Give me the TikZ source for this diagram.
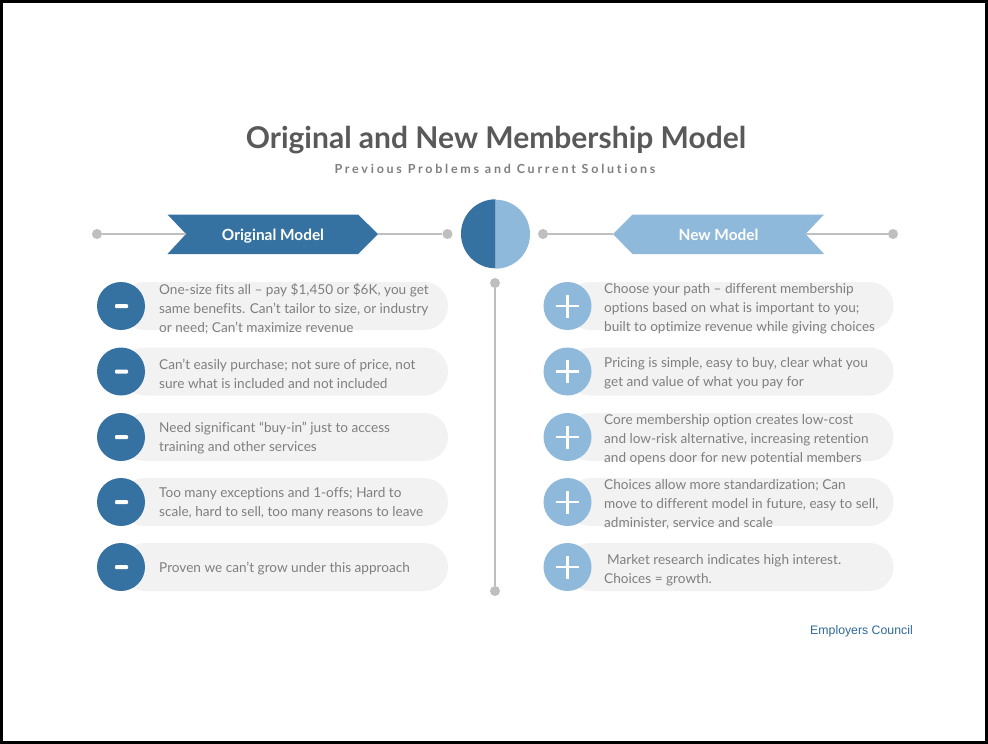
\documentclass[tikz,border=0pt]{standalone}
\usepackage{fontspec}
\setmainfont[Ligatures=NoCommon]{Lato}
\newfontfamily\subfont[LetterSpace=22,Ligatures=NoCommon]{Lato}
\newfontfamily\footfont{Liberation Sans}
\usetikzlibrary{shapes.misc}
\definecolor{dblue}{HTML}{3571A1}
\definecolor{lblue}{HTML}{8FB9DB}
\definecolor{pillgray}{HTML}{F2F2F2}
\definecolor{textgray}{HTML}{7F7F7F}
\definecolor{titlegray}{HTML}{595959}
\definecolor{linegray}{HTML}{BFBFBF}
\definecolor{footblue}{HTML}{2E6A9A}
\tikzset{
  gline/.style={draw=linegray, line width=2pt},
  dotnode/.style={circle, fill=linegray, minimum size=10pt, inner sep=0pt},
  pill/.style={rounded rectangle, fill=pillgray, minimum height=48pt, minimum width=327pt, inner sep=0pt},
  minusicon/.style={circle, fill=dblue, minimum size=48pt, inner sep=0pt,
    path picture={\fill[white, rounded corners=1pt] ([xshift=-6pt,yshift=-2pt]path picture bounding box.center) rectangle ++(13pt,4pt);}},
  plusicon/.style={circle, fill=lblue, minimum size=48pt, inner sep=0pt,
    path picture={\draw[white, line width=2.6pt] ([xshift=-11.5pt]path picture bounding box.center) -- ([xshift=11.5pt]path picture bounding box.center)
      ([yshift=-11.5pt]path picture bounding box.center) -- ([yshift=11.5pt]path picture bounding box.center);}},
  txt/.style={anchor=west, align=left, inner sep=0pt, text=textgray, font=\fontsize{13.6}{19}\selectfont},
  bantext/.style={anchor=base, text=white, font=\fontsize{15.4}{17}\selectfont\bfseries, inner sep=0pt},
}
\begin{document}
\begin{tikzpicture}[x=1pt, y=-1pt]
\useasboundingbox (0,0) rectangle (988,744);
\fill[white] (0,0) rectangle (988,744);
\draw[black, line width=3pt] (1.5,1.5) rectangle (986.5,742.5);

% title
\node[text=titlegray, font=\fontsize{30}{34}\selectfont\bfseries, inner sep=0pt] (title) at (496,140) {Original and New Membership Model};
\node[text=textgray, font=\fontsize{12.5}{14}\selectfont\subfont\bfseries, inner sep=0pt] (subtitle) at (495,168.5) {Previous Problems and Current Solutions};

% left banner
\fill[dblue] (167.5,214.5) -- (358,214.5) -- (378,234) -- (358,254) -- (167.5,254) -- (186,234) -- cycle;
\coordinate (b1n) at (186,234);
\coordinate (b1t) at (378,234);
\node[bantext] (b1) at (273,240.5) {Original Model};
\node[dotnode] (d1) at (97,234) {};
\node[dotnode] (d2) at (447.5,234) {};
\draw[gline] (d1) -- (b1n);
\draw[gline] (b1t) -- (d2);

% right banner
\fill[lblue] (613,234) -- (632.5,214.5) -- (824,214.5) -- (805.5,234) -- (824,254) -- (632.5,254) -- cycle;
\coordinate (b2t) at (613,234);
\coordinate (b2n) at (805.5,234);
\node[bantext] (b2) at (718.5,240.5) {New Model};
\node[dotnode] (d3) at (543,234) {};
\node[dotnode] (d4) at (893,234) {};
\draw[gline] (d3) -- (b2t);
\draw[gline] (b2n) -- (d4);

% center circle
\node[circle, minimum size=69pt, inner sep=0pt] (cc) at (495.5,234) {};
\fill[dblue] (cc.north) arc[start angle=90, end angle=270, radius=34.5pt] -- cycle;
\fill[lblue] (cc.south) arc[start angle=-90, end angle=90, radius=34.5pt] -- cycle;

% vertical divider
\node[dotnode] (v1) at (495,283) {};
\node[dotnode] (v2) at (495,591) {};
\draw[gline] (v1) -- (v2);

% left rows
\foreach \i/\y in {1/306, 2/371.5, 3/437, 4/502, 5/567}{
  \node[pill] (lp\i) at (284.5,\y) {};
  \node[minusicon] (lm\i) at (121,\y) {};
}
\node[txt] (lt1) at (159,308.5) {One-size fits all – pay \$1,450 or \$6K, you get\\same benefits. Can’t tailor to size, or industry\\or need; Can’t maximize revenue};
\node[txt] (lt2) at (159,373.5) {Can’t easily purchase; not sure of price, not\\sure what is included and not included};
\node[txt] (lt3) at (159,438) {Need significant “buy-in” just to access\\training and other services};
\node[txt] (lt4) at (159,503.5) {Too many exceptions and 1-offs; Hard to\\scale, hard to sell, too many reasons to leave};
\node[txt] (lt5) at (159,568.5) {Proven we can’t grow under this approach};

% right rows
\foreach \i/\y in {1/306, 2/371.5, 3/437, 4/502, 5/567}{
  \node[pill] (rp\i) at (730,\y) {};
  \node[plusicon] (rm\i) at (567.5,\y) {};
}
\node[txt] (rt1) at (604,308.5) {Choose your path – different membership\\options based on what is important to you;\\built to optimize revenue while giving choices};
\node[txt] (rt2) at (604,373.5) {Pricing is simple, easy to buy, clear what you\\get and value of what you pay for};
\node[txt] (rt3) at (604,439.5) {Core membership option creates low-cost\\and low-risk alternative, increasing retention\\and opens door for new potential members};
\node[txt] (rt4) at (604,504.5) {Choices allow more standardization; Can\\move to different model in future, easy to sell,\\administer, service and scale};
\node[txt] (rt5) at (604,570) {\hspace{3pt}Market research indicates high interest.\\Choices = growth.};

% footer
\node[text=footblue, font=\footfont\fontsize{12.3}{14}\selectfont, inner sep=0pt] (foot) at (861.5,631.5) {Employers Council};
\end{tikzpicture}
\end{document}
